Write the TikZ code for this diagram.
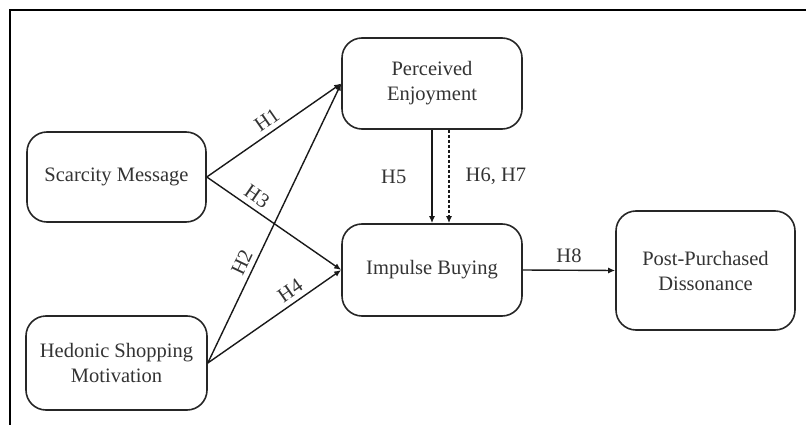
\documentclass[tikz,border=0pt]{standalone}
\usepackage{fontspec}
\setmainfont{Liberation Serif}
\usetikzlibrary{arrows.meta}
\begin{document}
\begin{tikzpicture}[x=1pt,y=-1pt,
  box/.style={draw=black!85, line width=1.6pt, rounded corners=20pt, align=center,
    font=\fontsize{20.5}{25}\selectfont, text=black!80, inner sep=0pt},
  arr/.style={draw=black!90, line width=1.4pt, -{Latex[length=7pt,width=6pt]}},
  lab/.style={font=\fontsize{20.5}{24}\selectfont, text=black!80, inner sep=2pt}]
\useasboundingbox (0,0) rectangle (806,425);
\coordinate (fa) at (806,10);
\coordinate (fb) at (10,10);
\coordinate (fc) at (10,425);
\draw[line width=2.6pt, line join=miter] (fa) -- (fb) -- (fc);

\node[box, minimum width=180pt, minimum height=91pt] (PE) at (432,83.5) {Perceived\\Enjoyment};
\node[box, minimum width=179pt, minimum height=90pt] (SM) at (116.5,177) {Scarcity Message};
\node[box, minimum width=181pt, minimum height=94pt] (HSM) at (116.5,363) {Hedonic Shopping\\Motivation};
\node[box, minimum width=180pt, minimum height=92pt] (IB) at (432,270) {Impulse Buying};
\node[box, minimum width=179pt, minimum height=119pt] (PPD) at (705.5,270.5) {Post-Purchased\\Dissonance};

\draw[arr] (SM.east) -- (PE.west) node[lab, pos=0.5, above=3pt, sloped] {H1};
\draw[arr] (SM.east) -- (IB.west) node[lab, pos=0.32, above=3pt, sloped] {H3};
\draw[arr] (HSM.east) -- (PE.west) node[lab, pos=0.34, above=3pt, sloped] {H2};
\draw[arr] (HSM.east) -- (IB.west) node[lab, pos=0.67, above=3pt, sloped] {H4};

\draw[arr] (PE.south) -- (IB.north) node[lab, midway, left=23pt] {H5};
\draw[arr, dash pattern=on 3pt off 2pt] ([xshift=17pt]PE.south) -- ([xshift=17pt]IB.north)
  node[lab, midway, right=14pt] {H6, H7};
\draw[arr] (IB.east) -- (PPD.west) node[lab, midway, above=5pt] {H8};
\end{tikzpicture}
\end{document}
